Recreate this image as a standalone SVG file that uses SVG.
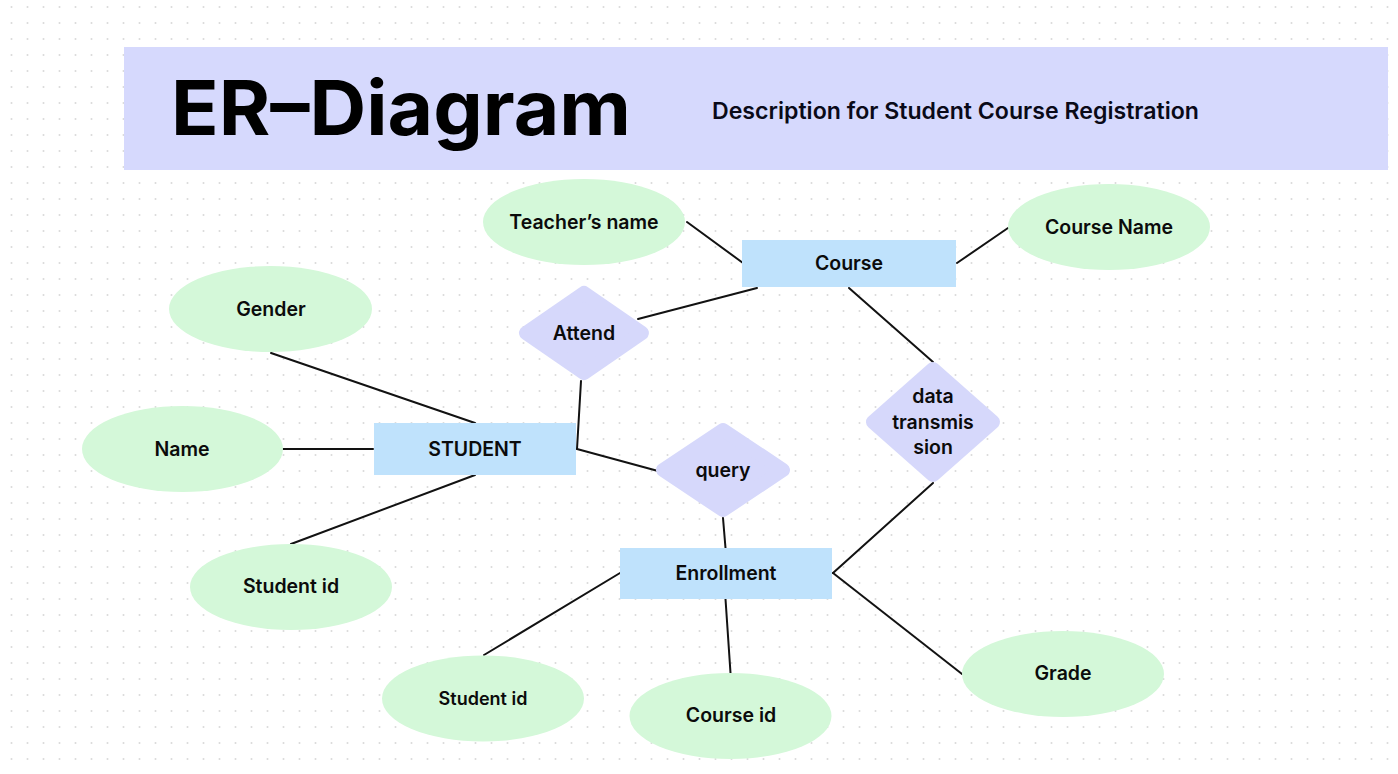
<svg xmlns="http://www.w3.org/2000/svg" width="1398" height="774" viewBox="0 0 1398 774">
<defs>
<pattern id="dots" x="0" y="0" width="16" height="16" patternUnits="userSpaceOnUse">
<circle cx="11.5" cy="7" r="1" fill="#d9d9d9"/>
</pattern>
<style>
.ent{fill:#bfe2fc}
.att{fill:#d4f8d9}
.rel{fill:#d6d8fb;stroke:#d6d8fb;stroke-width:14;stroke-linejoin:round}
.lbl{font-family:Inter,"Noto Sans","Liberation Sans",sans-serif;font-weight:600;font-size:19.5px;fill:#0b0b0b;text-anchor:middle}
.conn line{stroke:#121212;stroke-width:2;stroke-linecap:round}
</style>
</defs>
<rect width="1398" height="774" fill="#ffffff"/>
<rect width="1398" height="774" fill="url(#dots)"/>

<g id="header">
<rect x="124" y="47" width="1264" height="123" fill="#d6d9fd"/>
<text x="171" y="135" font-family="Inter,'Noto Sans','Liberation Sans',sans-serif" font-weight="700" font-size="76" fill="#000" textLength="460" lengthAdjust="spacingAndGlyphs">ER–Diagram</text>
<text x="712" y="119" font-family="Inter,'Noto Sans','Liberation Sans',sans-serif" font-weight="600" font-size="22.5" fill="#0a0a18" textLength="487" lengthAdjust="spacingAndGlyphs">Description for Student Course Registration</text>
</g>

<g class="conn" id="connectors">
<line x1="687" y1="222" x2="743" y2="263"/>
<line x1="957" y1="263" x2="1008" y2="228"/>
<line x1="638" y1="319" x2="757" y2="288"/>
<line x1="849" y1="288" x2="933" y2="362"/>
<line x1="271" y1="353" x2="475" y2="423"/>
<line x1="283" y1="449" x2="373" y2="449"/>
<line x1="291" y1="544" x2="475" y2="475"/>
<line x1="581" y1="381" x2="577" y2="449"/>
<line x1="577" y1="449" x2="658" y2="471"/>
<line x1="723" y1="518" x2="725.5" y2="548"/>
<line x1="933" y1="483" x2="833" y2="573"/>
<line x1="620" y1="573" x2="484" y2="655"/>
<line x1="725.5" y1="599" x2="730.5" y2="673"/>
<line x1="833" y1="573" x2="962" y2="674"/>
</g>

<g id="course"><rect class="ent" x="742" y="240" width="214" height="47"/><text class="lbl" x="849" y="270">Course</text></g>
<g id="student"><rect class="ent" x="374" y="423" width="202" height="52"/><text class="lbl" x="475" y="456">STUDENT</text></g>
<g id="enrollment"><rect class="ent" x="620" y="548" width="212" height="51"/><text class="lbl" x="726" y="580">Enrollment</text></g>

<g id="attend"><polygon class="rel" points="584,293 642,333 584,373 526,333"/><text class="lbl" x="584" y="340">Attend</text></g>
<g id="query"><polygon class="rel" points="723,430 783,470 723,510 663,470"/><text class="lbl" x="723" y="477">query</text></g>
<g id="data-transmission"><polygon class="rel" points="933,369 993,422 933,475 873,422"/>
<text class="lbl" x="933" y="403">data</text><text class="lbl" x="933" y="428.5">transmis</text><text class="lbl" x="933" y="454">sion</text></g>

<g id="teachers-name"><ellipse class="att" cx="584" cy="222" rx="101" ry="43"/><text class="lbl" x="584" y="229">Teacher’s name</text></g>
<g id="course-name"><ellipse class="att" cx="1109" cy="227" rx="101" ry="43"/><text class="lbl" x="1109" y="234">Course Name</text></g>
<g id="gender"><ellipse class="att" cx="270.5" cy="309" rx="101.5" ry="43"/><text class="lbl" x="271" y="316">Gender</text></g>
<g id="name"><ellipse class="att" cx="182.5" cy="449" rx="100.5" ry="43"/><text class="lbl" x="182" y="456">Name</text></g>
<g id="student-id"><ellipse class="att" cx="291" cy="587" rx="101" ry="43"/><text class="lbl" x="291" y="593">Student id</text></g>
<g id="enroll-student-id"><ellipse class="att" cx="483" cy="698.5" rx="101" ry="43"/><text class="lbl" x="483" y="705" style="font-size:18px">Student id</text></g>
<g id="course-id"><ellipse class="att" cx="730.5" cy="716" rx="101" ry="43"/><text class="lbl" x="731" y="722">Course id</text></g>
<g id="grade"><ellipse class="att" cx="1063" cy="674" rx="101" ry="43"/><text class="lbl" x="1063" y="680">Grade</text></g>
</svg>
